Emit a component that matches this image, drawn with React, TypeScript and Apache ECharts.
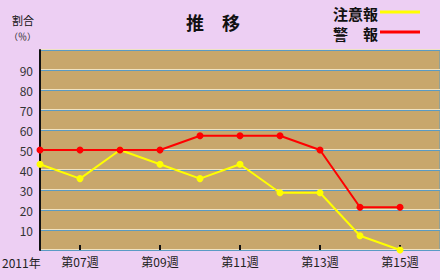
import React, { useEffect, useRef } from "react";
import * as echarts from "echarts";

const categories = ["06", "07", "08", "09", "10", "11", "12", "13", "14", "15", "16"];
const chuiho = [42.9, 35.7, 50, 42.9, 35.7, 42.9, 28.6, 28.6, 7.1, 0];
const keiho = [50, 50, 50, 50, 57.1, 57.1, 57.1, 50, 21.4, 21.4];
const yTicks = [10, 20, 30, 40, 50, 60, 70, 80, 90];

const FONT = "'Noto Sans CJK JP', sans-serif";

export default function App() {
  const ref = useRef<HTMLDivElement>(null);
  useEffect(() => {
    if (!ref.current) return;
    const chart = echarts.init(ref.current, undefined, { renderer: "svg" });
    chart.setOption({
      animation: false,
      backgroundColor: "#EDCFF3",
      grid: [
        { left: 40, right: -2, top: 50, bottom: 30, show: true, backgroundColor: "#C8A76C", borderColor: "#5A9BC4", borderWidth: 1 },
        { left: 40, right: -2, top: 49, bottom: 31, show: false },
      ],
      xAxis: [
        {
          type: "category",
          gridIndex: 0,
          boundaryGap: false,
          data: categories,
          axisLine: { show: false },
          axisTick: {
            show: true,
            inside: true,
            length: 5,
            interval: (i: number) => i % 2 === 1,
            lineStyle: { color: "#111", width: 2 },
          },
          axisLabel: {
            interval: (i: number) => i % 2 === 1,
            formatter: (v: string) => "第" + v + "週",
            color: "#222",
            fontSize: 12,
            fontFamily: FONT,
            margin: 5,
          },
          splitLine: { show: false },
          z: 5,
        },
        {
          type: "category",
          gridIndex: 1,
          boundaryGap: false,
          data: categories,
          show: false,
        },
      ],
      yAxis: [
        {
          type: "value",
          gridIndex: 0,
          min: 0,
          max: 100,
          interval: 10,
          axisLine: { show: true, lineStyle: { color: "#111", width: 2 } },
          axisTick: { show: false },
          axisLabel: {
            color: "#333",
            fontSize: 12,
            fontFamily: FONT,
            margin: 7,
            formatter: (v: number) => (yTicks.includes(v) ? String(v) : ""),
          },
          splitLine: { show: true, lineStyle: { color: "#5A9BC4", width: 1 } },
          z: 3,
        },
        {
          type: "value",
          gridIndex: 1,
          min: 0,
          max: 100,
          interval: 10,
          axisLine: { show: false },
          axisTick: { show: false },
          axisLabel: { show: false },
          splitLine: { show: true, lineStyle: { color: "#EFE2C2", width: 1 } },
          z: 2,
        },
      ],
      graphic: [
        { type: "text", x: 12, y: 20, style: { text: "割合", fontSize: 11, fontFamily: FONT, fill: "#111", verticalAlign: "middle" } },
        { type: "text", x: 9, y: 36, style: { text: "（％）", fontSize: 9, fontFamily: FONT, fill: "#222", verticalAlign: "middle" } },
        { type: "text", x: 213, y: 22, style: { text: "推　移", fontSize: 18, fontWeight: "bold", fontFamily: FONT, fill: "#111", align: "center", verticalAlign: "middle" } },
        { type: "text", x: 378, y: 13, style: { text: "注意報", fontSize: 15, fontWeight: "bold", fontFamily: FONT, fill: "#111", align: "right", verticalAlign: "middle" } },
        { type: "text", x: 378, y: 33, style: { text: "警　報", fontSize: 15, fontWeight: "bold", fontFamily: FONT, fill: "#111", align: "right", verticalAlign: "middle" } },
        { type: "line", shape: { x1: 380, y1: 12, x2: 420, y2: 12 }, style: { stroke: "#FFFF00", lineWidth: 3 } },
        { type: "line", shape: { x1: 380, y1: 32, x2: 420, y2: 32 }, style: { stroke: "#FF0000", lineWidth: 3 } },
        { type: "text", x: 2, y: 262, style: { text: "2011年", fontSize: 12, fontFamily: FONT, fill: "#222", align: "left", verticalAlign: "middle" } },
      ],
      series: [
        {
          name: "注意報",
          type: "line",
          xAxisIndex: 0,
          yAxisIndex: 0,
          data: chuiho,
          symbol: "circle",
          symbolSize: 7,
          lineStyle: { color: "#FFFF00", width: 2 },
          itemStyle: { color: "#FFFF00" },
          z: 10,
        },
        {
          name: "警報",
          type: "line",
          xAxisIndex: 0,
          yAxisIndex: 0,
          data: keiho,
          symbol: "circle",
          symbolSize: 7,
          lineStyle: { color: "#FF0000", width: 2 },
          itemStyle: { color: "#FF0000" },
          z: 11,
        },
      ],
    });
    return () => chart.dispose();
  }, []);
  return <div ref={ref} style={{ width: 440, height: 280, position: "absolute", left: 0, top: 0 }} />;
}
